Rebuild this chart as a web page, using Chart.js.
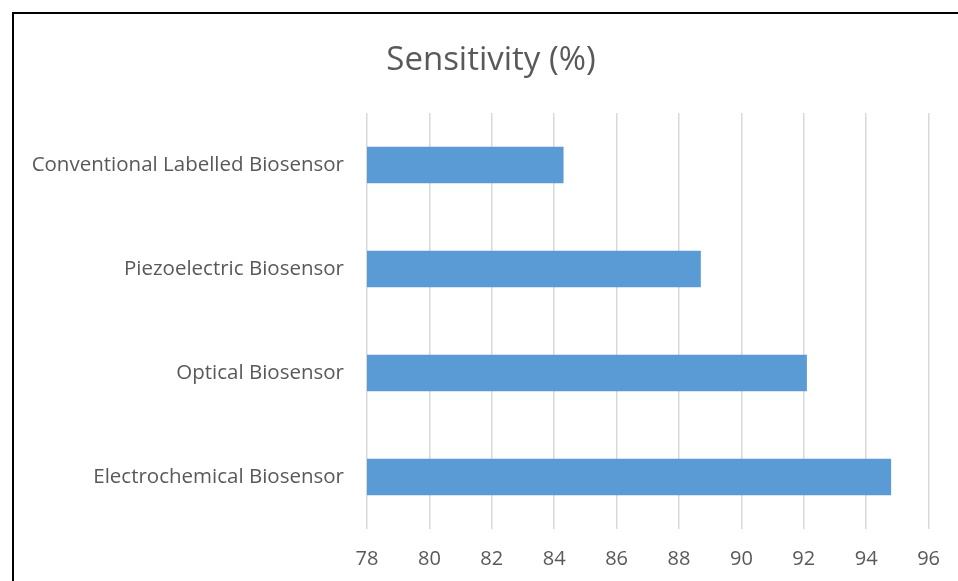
<!DOCTYPE html>
<html>
<head>
<meta charset="utf-8">
<script src="https://cdn.jsdelivr.net/npm/chart.js@4"></script>
<style>
  html, body { margin: 0; padding: 0; background: #fff; overflow: hidden; }
  #grafico { position: absolute; left: 0; top: 0; }
  #frame { position: absolute; left: 12px; top: 12px; width: 1000px; height: 700px; border: 2px solid #000; pointer-events: none; }
</style>
</head>
<body>
<canvas id="grafico" width="958" height="581"></canvas>
<div id="frame"></div>
<script>
var categorias = ['Conventional Labelled Biosensor', 'Piezoelectric Biosensor', 'Optical Biosensor', 'Electrochemical Biosensor'];
var sensibilidade = [84.3, 88.7, 92.1, 94.8];
var eixoMin = 78;
var eixoMax = 96;
var passo = 2;
var titulo = 'Sensitivity (%)';

document.addEventListener("DOMContentLoaded", function() {
    var ctx = document.getElementById('grafico').getContext('2d');
    var fonte = "'Open Sans', sans-serif";

    // titulo centrado na moldura, nao na area do grafico
    var tituloPlugin = {
        id: 'tituloMoldura',
        afterDraw: function(chart) {
            var c = chart.ctx;
            c.save();
            c.font = "33px " + fonte;
            c.fillStyle = '#595959';
            c.textAlign = 'center';
            c.textBaseline = 'middle';
            c.fillText(titulo, chart.width / 2 + 12, 61);
            c.restore();
        }
    };

    new Chart(ctx, {
        type: 'bar',
        data: {
            labels: categorias,
            datasets: [{
                label: titulo,
                data: sensibilidade,
                backgroundColor: '#5B9BD5',
                borderWidth: 0,
                categoryPercentage: 1,
                barPercentage: 0.35
            }]
        },
        plugins: [tituloPlugin],
        options: {
            indexAxis: 'y',
            responsive: false,
            animation: false,
            layout: { padding: { top: 113, right: 29, bottom: -8, left: 0 } },
            scales: {
                x: {
                    min: eixoMin,
                    max: eixoMax,
                    ticks: { stepSize: passo, color: '#595959', font: { family: fonte, size: 20 }, padding: 18 },
                    grid: { color: '#d9d9d9', lineWidth: 1.5, drawTicks: false },
                    border: { display: false }
                },
                y: {
                    grid: { display: false },
                    border: { display: false },
                    ticks: { color: '#595959', font: { family: fonte, size: 20.5 }, padding: 15 },
                    afterFit: function(scale) { scale.width = 367; }
                }
            },
            plugins: {
                legend: { display: false },
                tooltip: { enabled: false },
                title: { display: false }
            }
        }
    });
});
</script>
</body>
</html>
